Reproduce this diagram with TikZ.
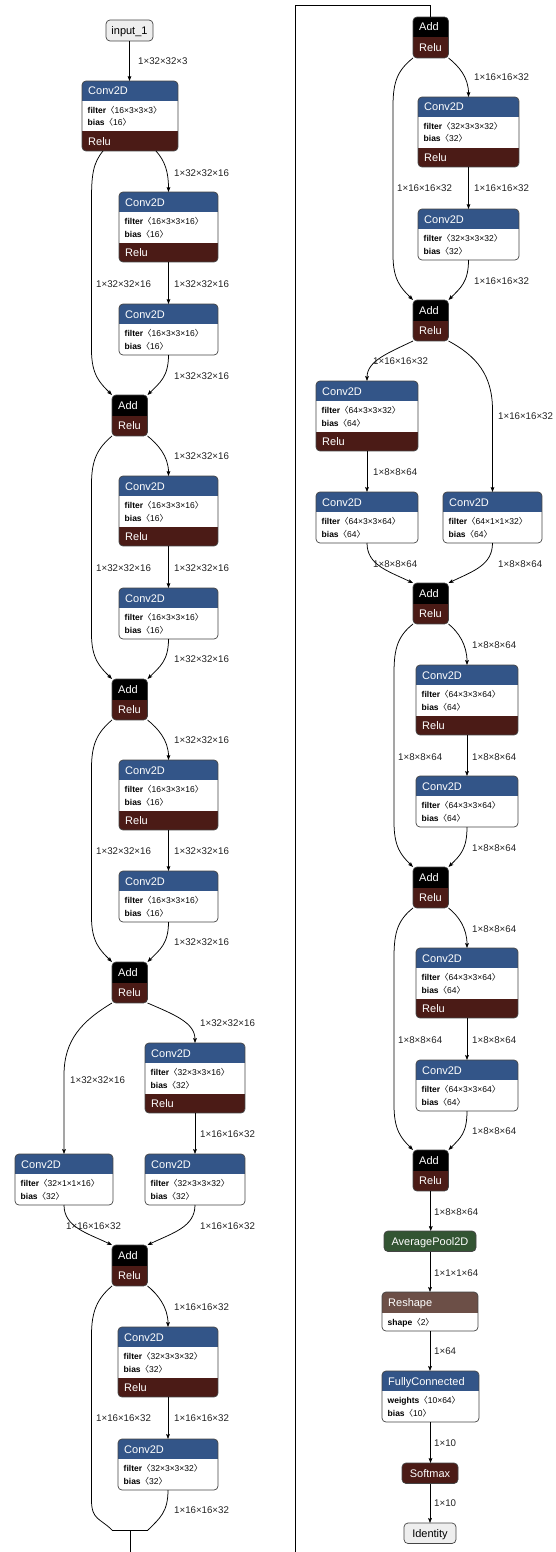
\documentclass[tikz,border=0pt]{standalone}
\usepackage{fontspec}
\setmainfont{Liberation Sans}
\newfontfamily\cjkf{Noto Sans CJK SC}
\usetikzlibrary{arrows.meta}
\definecolor{cblue}{RGB}{51,85,136}
\definecolor{actred}{RGB}{75,27,22}
\definecolor{poolgreen}{RGB}{51,85,51}
\definecolor{shapebrown}{RGB}{108,79,71}
\definecolor{bordc}{RGB}{68,68,68}
\definecolor{inpgray}{RGB}{238,238,238}
\definecolor{labc}{RGB}{34,34,34}
\newcommand\htfont{\fontsize{11}{13}\selectfont}
\newcommand\atfont{\fontsize{8.5}{10}\selectfont}
\newcommand\lbfont{\fontsize{9.7}{11}\selectfont}
\tikzset{
 nframe/.style={inner sep=0,outer sep=0,anchor=north west,rectangle},
 nbord/.style={draw=bordc,line width=0.7pt,rounded corners=4pt},
 htext/.style={text=white,font=\htfont,anchor=base west,inner sep=0},
 atext/.style={text=black,font=\atfont,anchor=base west,inner sep=0},
 elabel/.style={text=labc,font=\lbfont,anchor=base west,inner sep=0},
 conn/.style={line width=0.75pt,-{Stealth[length=5pt,width=3.8pt,inset=1pt]}},
 plain/.style={line width=0.75pt},
}
\newcommand\br[1]{{\cjkf 〈}#1{\cjkf 〉}}
\newcommand\mkframe[5]{\node[nframe,minimum width=#4pt,minimum height=#5pt] (#1) at (#2,#3) {};}
\newcommand\convbox[7]{%
 \ifnum#7=1 \def\hgt{70}\else\def\hgt{51}\fi
 \mkframe{#1}{#2}{#3}{#4}{\hgt}%
 \begin{scope}
  \clip[rounded corners=4pt] (#1.north west) rectangle (#1.south east);
  \fill[white] (#1.north west) rectangle (#1.south east);
  \fill[cblue] (#1.north west) rectangle ([yshift=-20pt]#1.north east);
  \ifnum#7=1 \fill[actred] ([yshift=19.5pt]#1.south west) rectangle (#1.south east);\fi
 \end{scope}
 \draw[nbord] (#1.north west) rectangle (#1.south east);
 \node[htext] (#1-h) at ([xshift=6pt,yshift=-14pt]#1.north west) {Conv2D};
 \node[atext] (#1-a) at ([xshift=5.5pt,yshift=-32.3pt]#1.north west) {\textbf{filter}\br{#5}};
 \node[atext] (#1-b) at ([xshift=5.5pt,yshift=-45pt]#1.north west) {\textbf{bias}\br{#6}};
 \ifnum#7=1 \node[htext] (#1-r) at ([xshift=6pt,yshift=5.7pt]#1.south west) {Relu};\fi
}
\newcommand\addnode[3]{%
 \mkframe{#1}{#2}{#3}{35.5}{41}%
 \begin{scope}
  \clip[rounded corners=4pt] (#1.north west) rectangle (#1.south east);
  \fill[black] (#1.north west) rectangle ([yshift=-20.5pt]#1.north east);
  \fill[actred] ([yshift=-20.5pt]#1.north west) rectangle (#1.south east);
 \end{scope}
 \draw[nbord] (#1.north west) rectangle (#1.south east);
 \node[htext] (#1-h) at ([xshift=6pt,yshift=-14pt]#1.north west) {Add};
 \node[htext] (#1-r) at ([xshift=6pt,yshift=-34.5pt]#1.north west) {Relu};
}
\newcommand\simplenode[8]{%
 \node[nframe,minimum width=#4pt,minimum height=#5pt,fill=#6,draw=bordc,line width=0.7pt,rounded corners=4pt] (#1) at (#2,#3) {};
 \node[anchor=base,inner sep=0,text=#7,font=\htfont] (#1-t) at ([yshift=-4pt]#1.center) {#8};
}
\newcounter{labn}
\newcommand\lab[3]{\stepcounter{labn}\node[elabel] (lab\thelabn) at (#1,#2+3.5) {#3};}
\begin{document}
\begin{tikzpicture}[x=1pt,y=-1pt]
\useasboundingbox (0,0) rectangle (555,1552);

% ---------------- left column nodes
\simplenode{in}{106}{20}{47}{21}{inpgray}{black}{input\_1}
\convbox{c1}{82}{81}{96}{16×3×3×3}{16}{1}
\convbox{b1a}{119}{192}{99}{16×3×3×16}{16}{1}
\convbox{b1b}{119}{304}{99}{16×3×3×16}{16}{0}
\addnode{add1}{112}{395}
\convbox{b2a}{119}{476}{99}{16×3×3×16}{16}{1}
\convbox{b2b}{119}{588}{99}{16×3×3×16}{16}{0}
\addnode{add2}{112}{679}
\convbox{b3a}{119}{760}{99}{16×3×3×16}{16}{1}
\convbox{b3b}{119}{871}{99}{16×3×3×16}{16}{0}
\addnode{add3}{112}{962}
\convbox{d1}{145}{1043}{100}{32×3×3×16}{32}{1}
\convbox{d2}{145}{1154}{100}{32×3×3×32}{32}{0}
\convbox{d3}{15}{1154}{98}{32×1×1×16}{32}{0}
\addnode{add4}{112}{1245}
\convbox{e1}{118}{1327}{100}{32×3×3×32}{32}{1}
\convbox{e2}{118}{1439}{100}{32×3×3×32}{32}{0}

% ---------------- right column nodes
\addnode{add5}{413}{17}
\convbox{r1a}{418}{97}{101}{32×3×3×32}{32}{1}
\convbox{r1b}{418}{209}{101}{32×3×3×32}{32}{0}
\addnode{add6}{413}{300}
\convbox{g1}{316}{381}{102}{64×3×3×32}{64}{1}
\convbox{g2}{316}{492}{102}{64×3×3×64}{64}{0}
\convbox{g3}{443}{492}{99}{64×1×1×32}{64}{0}
\addnode{add7}{413}{583}
\convbox{h1a}{416}{665}{102}{64×3×3×64}{64}{1}
\convbox{h1b}{416}{776}{102}{64×3×3×64}{64}{0}
\addnode{add8}{413}{867}
\convbox{h2a}{416}{948}{102}{64×3×3×64}{64}{1}
\convbox{h2b}{416}{1060}{102}{64×3×3×64}{64}{0}
\addnode{add9}{413}{1150}
\simplenode{pool}{384}{1231}{92}{20.5}{poolgreen}{white}{AveragePool2D}
% reshape
\mkframe{resh}{382}{1292}{96}{39}
\begin{scope}
 \clip[rounded corners=4pt] (resh.north west) rectangle (resh.south east);
 \fill[white] (resh.north west) rectangle (resh.south east);
 \fill[shapebrown] (resh.north west) rectangle ([yshift=-20.5pt]resh.north east);
\end{scope}
\draw[nbord] (resh.north west) rectangle (resh.south east);
\node[htext] (resh-h) at ([xshift=6pt,yshift=-14pt]resh.north west) {Reshape};
\node[atext] (resh-a) at ([xshift=5.5pt,yshift=-33pt]resh.north west) {\textbf{shape}\br{2}};
% fully connected
\mkframe{fc}{382}{1371}{97}{51}
\begin{scope}
 \clip[rounded corners=4pt] (fc.north west) rectangle (fc.south east);
 \fill[white] (fc.north west) rectangle (fc.south east);
 \fill[cblue] (fc.north west) rectangle ([yshift=-20pt]fc.north east);
\end{scope}
\draw[nbord] (fc.north west) rectangle (fc.south east);
\node[htext] (fc-h) at ([xshift=6pt,yshift=-14pt]fc.north west) {FullyConnected};
\node[atext] (fc-a) at ([xshift=5.5pt,yshift=-32.3pt]fc.north west) {\textbf{weights}\br{10×64}};
\node[atext] (fc-b) at ([xshift=5.5pt,yshift=-45pt]fc.north west) {\textbf{bias}\br{10}};
\simplenode{soft}{402}{1463}{56}{20.5}{actred}{white}{Softmax}
\simplenode{ident}{404}{1523}{52}{20.5}{inpgray}{black}{Identity}

% ---------------- left column edges
\draw[conn] (in.south) -- (in.south |- c1.north);
\draw[conn] ([xshift=26pt]c1.south) .. controls +(9,10) and +(0,-20) .. (b1a.north);
\draw[conn] ([xshift=-27pt]c1.south) .. controls +(-10,12) and +(0,-25) .. (91.5,200) -- (91.5,350) .. controls +(0,25) and +(-12,-12) .. (add1.north west);
\draw[conn] (b1a.south) -- (b1b.north);
\draw[conn] (b1b.south) .. controls +(0,22) and +(12,-12) .. (add1.north east);

\draw[conn] (add1.south east) .. controls +(10,8) and +(0,-20) .. (b2a.north);
\draw[conn] (add1.south west) .. controls +(-14,12) and +(0,-25) .. (91.5,484) -- (91.5,634) .. controls +(0,25) and +(-12,-12) .. (add2.north west);
\draw[conn] (b2a.south) -- (b2b.north);
\draw[conn] (b2b.south) .. controls +(0,22) and +(12,-12) .. (add2.north east);

\draw[conn] (add2.south east) .. controls +(10,8) and +(0,-20) .. (b3a.north);
\draw[conn] (add2.south west) .. controls +(-14,12) and +(0,-25) .. (91.5,768) -- (91.5,917) .. controls +(0,25) and +(-12,-12) .. (add3.north west);
\draw[conn] (b3a.south) -- (b3b.north);
\draw[conn] (b3b.south) .. controls +(0,22) and +(12,-12) .. (add3.north east);

\draw[conn] (add3.south east) .. controls +(28,12) and +(0,-20) .. (d1.north);
\draw[conn] (add3.south west) .. controls +(-30,18) and +(0,-35) .. (64,1075) -- (d3.north);
\draw[conn] (d1.south) -- (d2.north);
\draw[conn] (d3.south) .. controls +(0,22) and +(-25,-12) .. (add4.north west);
\draw[conn] (d2.south) .. controls +(0,22) and +(25,-12) .. (add4.north east);

\coordinate (cutL) at (112,1530);
\coordinate (cutR) at (148,1530);
\coordinate (cutM) at (130,1530);
\coordinate (cutB) at (130,1552);
\draw[conn] (add4.south east) .. controls +(10,8) and +(0,-20) .. (e1.north);
\draw[plain] (add4.south west) .. controls +(-14,12) and +(0,-25) .. (91.5,1335) -- (91.5,1500) .. controls +(0,20) and +(-12,-12) .. (cutL);
\draw[conn] (e1.south) -- (e2.north);
\draw[plain] (e2.south) .. controls +(0,22) and +(12,-12) .. (cutR);
\draw[plain] (cutL) -- (cutR);
\draw[plain] (cutM) -- (cutB);

% ---------------- wrap connector
\coordinate (wrapB) at (295,1552);
\coordinate (wrapT) at (295,5);
\draw[plain] (wrapB) -- (wrapT) -| (add5.north);

% ---------------- right column edges
\draw[conn] (add5.south east) .. controls +(10,8) and +(0,-20) .. (r1a.north);
\draw[conn] (add5.south west) .. controls +(-15,12) and +(0,-25) .. (393,106) -- (393,255) .. controls +(0,25) and +(-12,-12) .. (add6.north west);
\draw[conn] (r1a.south) -- (r1b.north);
\draw[conn] (r1b.south) .. controls +(0,22) and +(12,-12) .. (add6.north east);

\draw[conn] (add6.south west) .. controls +(-25,12) and +(0,-20) .. (g1.north);
\draw[conn] (add6.south east) .. controls +(28,15) and +(0,-35) .. (492.5,410) -- (g3.north);
\draw[conn] (g1.south) -- (g2.north);
\draw[conn] (g2.south) .. controls +(0,22) and +(-25,-12) .. (add7.north west);
\draw[conn] (g3.south) .. controls +(0,22) and +(25,-12) .. (add7.north east);

\draw[conn] (add7.south east) .. controls +(10,8) and +(0,-20) .. (h1a.north);
\draw[conn] (add7.south west) .. controls +(-15,12) and +(0,-25) .. (394,673) -- (394,822) .. controls +(0,25) and +(-12,-12) .. (add8.north west);
\draw[conn] (h1a.south) -- (h1b.north);
\draw[conn] (h1b.south) .. controls +(0,22) and +(12,-12) .. (add8.north east);

\draw[conn] (add8.south east) .. controls +(10,8) and +(0,-20) .. (h2a.north);
\draw[conn] (add8.south west) .. controls +(-15,12) and +(0,-25) .. (394,957) -- (394,1105) .. controls +(0,25) and +(-12,-12) .. (add9.north west);
\draw[conn] (h2a.south) -- (h2b.north);
\draw[conn] (h2b.south) .. controls +(0,22) and +(12,-12) .. (add9.north east);

\draw[conn] (add9.south) -- (add9.south |- pool.north);
\draw[conn] (pool.south) -- (pool.south |- resh.north);
\draw[conn] (resh.south) -- (resh.south |- fc.north);
\draw[conn] (fc.south) -- (fc.south |- soft.north);
\draw[conn] (soft.south) -- (soft.south |- ident.north);

% ---------------- labels
\lab{138}{61}{1×32×32×3}
\lab{174}{173}{1×32×32×16}
\lab{96}{284}{1×32×32×16}
\lab{174}{284}{1×32×32×16}
\lab{174}{376}{1×32×32×16}
\lab{174}{456}{1×32×32×16}
\lab{96}{568}{1×32×32×16}
\lab{174}{568}{1×32×32×16}
\lab{174}{659}{1×32×32×16}
\lab{174}{740}{1×32×32×16}
\lab{96}{851}{1×32×32×16}
\lab{174}{851}{1×32×32×16}
\lab{174}{942}{1×32×32×16}
\lab{200}{1023}{1×32×32×16}
\lab{70}{1080}{1×32×32×16}
\lab{200}{1134}{1×16×16×32}
\lab{66}{1226}{1×16×16×32}
\lab{200}{1226}{1×16×16×32}
\lab{174}{1307}{1×16×16×32}
\lab{96}{1418}{1×16×16×32}
\lab{174}{1418}{1×16×16×32}
\lab{174}{1510}{1×16×16×32}

\lab{474}{77}{1×16×16×32}
\lab{397}{188}{1×16×16×32}
\lab{474}{188}{1×16×16×32}
\lab{474}{281}{1×16×16×32}
\lab{373}{361}{1×16×16×32}
\lab{498}{416}{1×16×16×32}
\lab{373}{472}{1×8×8×64}
\lab{373}{564}{1×8×8×64}
\lab{498}{564}{1×8×8×64}
\lab{472}{645}{1×8×8×64}
\lab{398}{757}{1×8×8×64}
\lab{472}{757}{1×8×8×64}
\lab{472}{848}{1×8×8×64}
\lab{472}{929}{1×8×8×64}
\lab{398}{1040}{1×8×8×64}
\lab{472}{1040}{1×8×8×64}
\lab{472}{1131}{1×8×8×64}
\lab{434}{1212}{1×8×8×64}
\lab{434}{1273}{1×1×1×64}
\lab{434}{1351}{1×64}
\lab{434}{1443}{1×10}
\lab{434}{1503}{1×10}
\end{tikzpicture}
\end{document}
